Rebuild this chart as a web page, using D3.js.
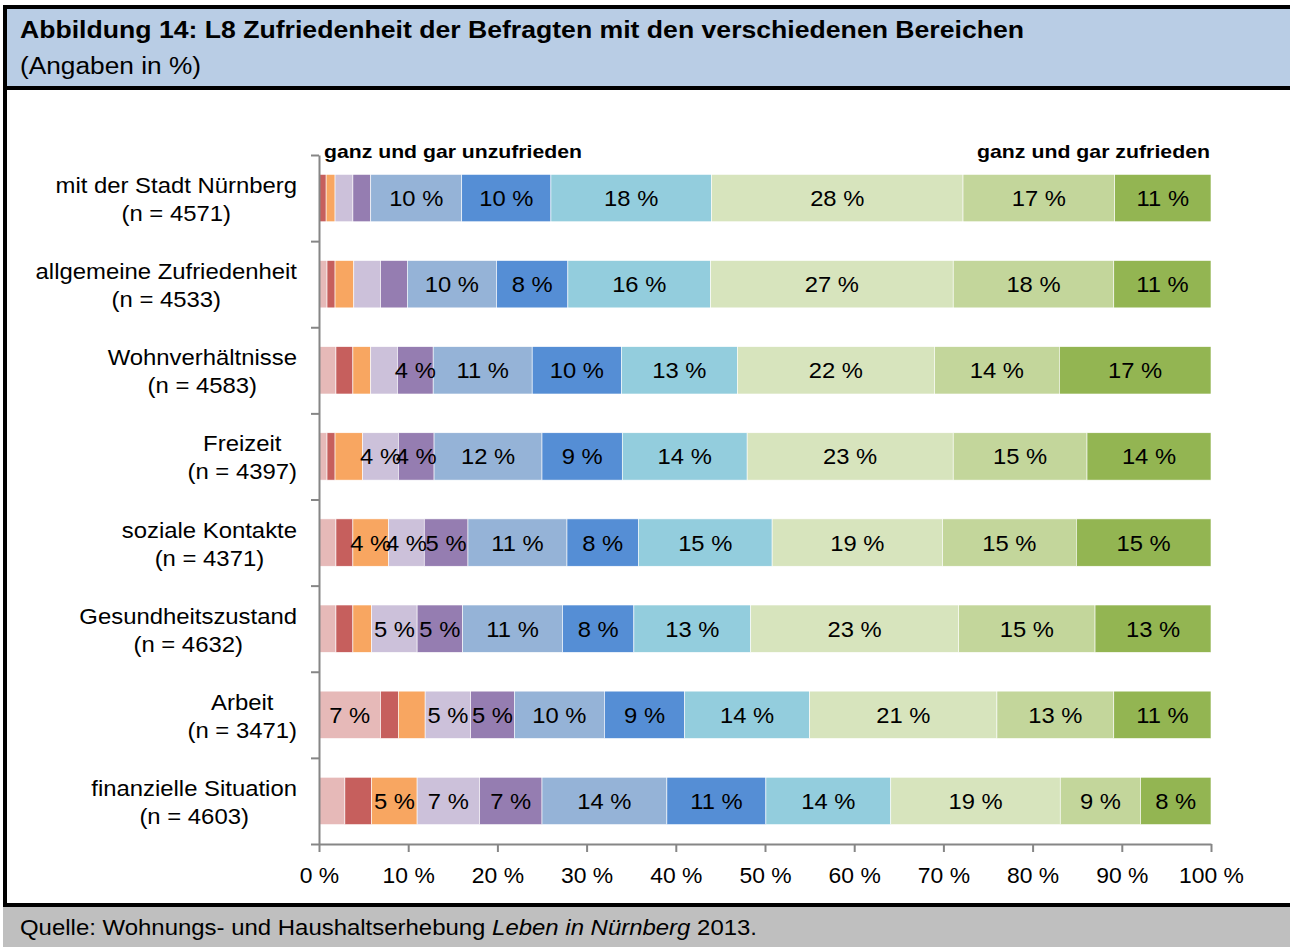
<!DOCTYPE html>
<html>
<head>
<meta charset="utf-8">
<script src="https://cdn.jsdelivr.net/npm/d3@7"></script>
<style>
  body { margin: 0; background: #fff; }
  svg text { font-family: Arial, "Liberation Sans", sans-serif; }
</style>
</head>
<body>
<div id="chart"></div>
<script>
const width = 1290;
const height = 947;

// categories and sample sizes (top to bottom)
const categories = ['mit der Stadt Nürnberg', 'allgemeine Zufriedenheit', 'Wohnverhältnisse', 'Freizeit',
    'soziale Kontakte', 'Gesundheitszustand', 'Arbeit', 'finanzielle Situation'];
const sampleSizes = [4571, 4533, 4583, 4397, 4371, 4632, 3471, 4603];

// scale points 0 (ganz und gar unzufrieden) .. 10 (ganz und gar zufrieden)
const levels = ['0', '1', '2', '3', '4', '5', '6', '7', '8', '9', '10'];

// shares in % per category, one value per scale point
const stadt       = [0.0, 0.8, 1.0, 2.0, 2.0, 10.2, 10.0, 18.0, 28.2, 17.0, 10.8];
const allgemein   = [0.9, 0.9, 2.1, 3.0, 3.0, 10.0, 8.0, 16.0, 27.2, 18.0, 10.9];
const wohnen      = [1.9, 1.9, 2.0, 3.0, 4.0, 11.1, 10.0, 13.0, 22.1, 14.0, 17.0];
const freizeit    = [0.9, 0.9, 3.1, 4.0, 4.0, 12.1, 9.0, 14.0, 23.1, 15.0, 13.9];
const sozial      = [1.9, 1.9, 4.0, 4.0, 4.9, 11.1, 8.0, 15.0, 19.1, 15.0, 15.1];
const gesundheit  = [1.9, 1.9, 2.1, 5.1, 5.1, 11.2, 8.0, 13.1, 23.3, 15.3, 13.0];
const arbeit      = [6.9, 2.0, 3.0, 5.1, 4.9, 10.1, 9.0, 14.0, 21.0, 13.1, 10.9];
const finanzen    = [2.9, 3.0, 5.1, 7.0, 7.0, 14.0, 11.1, 14.0, 19.0, 9.0, 7.9];
const shares = [stadt, allgemein, wohnen, freizeit, sozial, gesundheit, arbeit, finanzen];

const xTicks = [0, 10, 20, 30, 40, 50, 60, 70, 80, 90, 100];

const colors = ['#E6B9B8', '#C65F5D', '#F8A661', '#CCC1DA', '#957DB1', '#95B3D7',
    '#558ED5', '#93CDDD', '#D7E4BD', '#C3D69B', '#93B552'];

// widen text a bit, the original glyphs are broader than Arial
function stretch(sel, k) {
    sel.each(function() {
        const w = this.getComputedTextLength();
        d3.select(this).attr('textLength', w * k).attr('lengthAdjust', 'spacingAndGlyphs');
    });
}

const svg = d3.select('#chart')
    .append('svg')
    .attr('width', width)
    .attr('height', height);

// frame: header, footer, borders
svg.append('rect').attr('x', 0).attr('y', 0).attr('width', width).attr('height', height).attr('fill', '#fff');
svg.append('rect').attr('x', 3).attr('y', 9).attr('width', width - 3).attr('height', 77).attr('fill', '#B9CDE5');
svg.append('rect').attr('x', 3).attr('y', 5).attr('width', width - 3).attr('height', 4).attr('fill', '#000');
svg.append('rect').attr('x', 3).attr('y', 86).attr('width', width - 3).attr('height', 4).attr('fill', '#000');
svg.append('rect').attr('x', 3).attr('y', 907).attr('width', width - 3).attr('height', 40).attr('fill', '#BFBFBF');
svg.append('rect').attr('x', 3).attr('y', 903).attr('width', width - 3).attr('height', 4).attr('fill', '#000');
svg.append('rect').attr('x', 3).attr('y', 5).attr('width', 4).attr('height', 902).attr('fill', '#000');

svg.append('text')
    .attr('x', 20).attr('y', 38)
    .style('font-size', '23px').style('font-weight', 'bold')
    .attr('textLength', 1004).attr('lengthAdjust', 'spacingAndGlyphs')
    .text('Abbildung 14: L8 Zufriedenheit der Befragten mit den verschiedenen Bereichen');
svg.append('text')
    .attr('x', 20).attr('y', 74)
    .style('font-size', '23px')
    .attr('textLength', 181).attr('lengthAdjust', 'spacingAndGlyphs')
    .text('(Angaben in %)');

const footer = svg.append('text')
    .attr('x', 20).attr('y', 935)
    .style('font-size', '22px')
    .attr('textLength', 737).attr('lengthAdjust', 'spacingAndGlyphs');
footer.append('tspan').text('Quelle: Wohnungs- und Haushaltserhebung ');
footer.append('tspan').style('font-style', 'italic').text('Leben in Nürnberg');
footer.append('tspan').text(' 2013.');

// scales
const x = d3.scaleLinear().domain([0, 100]).range([319, 1211]);
const y = d3.scaleBand().domain(categories).range([155, 844]).paddingInner(0.45).paddingOuter(0.225);
const yEdges = d3.scaleLinear().domain([0, categories.length]).range([155, 844]);

const rows = categories.map((c, i) => {
    let acc = 0;
    return {
        category: c,
        n: sampleSizes[i],
        segments: shares[i].map((v, j) => {
            const s = { level: levels[j], value: v, x0: acc, x1: acc + v };
            acc += v;
            return s;
        })
    };
});

const bars = svg.append('g').attr('class', 'bars')
    .selectAll('g')
    .data(rows)
    .enter()
    .append('g')
    .attr('transform', d => `translate(0,${y(d.category)})`);

bars.selectAll('rect')
    .data(d => d.segments)
    .enter()
    .append('rect')
    .attr('x', d => x(d.x0))
    .attr('width', d => Math.max(0, x(d.x1) - x(d.x0)))
    .attr('height', y.bandwidth())
    .attr('fill', (d, j) => colors[j])
    .attr('stroke', '#fff')
    .attr('stroke-width', 0.6);

bars.selectAll('text')
    .data(d => d.segments.filter(s => Math.round(s.value) >= 4))
    .enter()
    .append('text')
    .attr('x', d => (x(d.x0) + x(d.x1)) / 2)
    .attr('y', y.bandwidth() / 2 + 8)
    .attr('text-anchor', 'middle')
    .style('font-size', '22px')
    .style('fill', '#000')
    .text(d => Math.round(d.value) + ' %')
    .call(stretch, 1.08);

// axes
const xAxis = svg.append('g')
    .attr('transform', 'translate(0,844)')
    .call(d3.axisBottom(x).tickValues(xTicks).tickFormat(d => d + ' %').tickSize(8).tickPadding(15).tickSizeOuter(0));
xAxis.selectAll('text').style('font-size', '22px').style('fill', '#000')
    .style('font-family', 'Arial, "Liberation Sans", sans-serif')
    .call(stretch, 1.04);

const yAxis = svg.append('g')
    .attr('transform', 'translate(319,0)')
    .call(d3.axisLeft(yEdges).tickValues(d3.range(0, categories.length + 1)).tickFormat('').tickSize(8).tickSizeOuter(0));

svg.selectAll('.domain, .tick line').attr('stroke', '#868686').attr('stroke-width', 2);

// category labels, two centered lines, block right-aligned
const labels = svg.append('g').attr('class', 'cat-labels');
rows.forEach(d => {
    const cy = y(d.category) + y.bandwidth() / 2;
    const g = labels.append('g');
    const l1 = g.append('text').attr('y', cy - 5).attr('text-anchor', 'middle')
        .style('font-size', '22px').text(d.category).call(stretch, 1.085);
    const l2 = g.append('text').attr('y', cy + 23).attr('text-anchor', 'middle')
        .style('font-size', '22px').text(`(n = ${d.n})`).call(stretch, 1.085);
    const w = Math.max(+l1.attr('textLength'), +l2.attr('textLength'));
    const cx = 297 - w / 2;
    l1.attr('x', cx);
    l2.attr('x', cx);
});

// end labels of the scale
svg.append('text')
    .attr('x', 324).attr('y', 158)
    .style('font-size', '19px').style('font-weight', 'bold')
    .attr('textLength', 258).attr('lengthAdjust', 'spacingAndGlyphs')
    .text('ganz und gar unzufrieden');
svg.append('text')
    .attr('x', 977).attr('y', 158)
    .style('font-size', '19px').style('font-weight', 'bold')
    .attr('textLength', 233).attr('lengthAdjust', 'spacingAndGlyphs')
    .text('ganz und gar zufrieden');
</script>
</body>
</html>
